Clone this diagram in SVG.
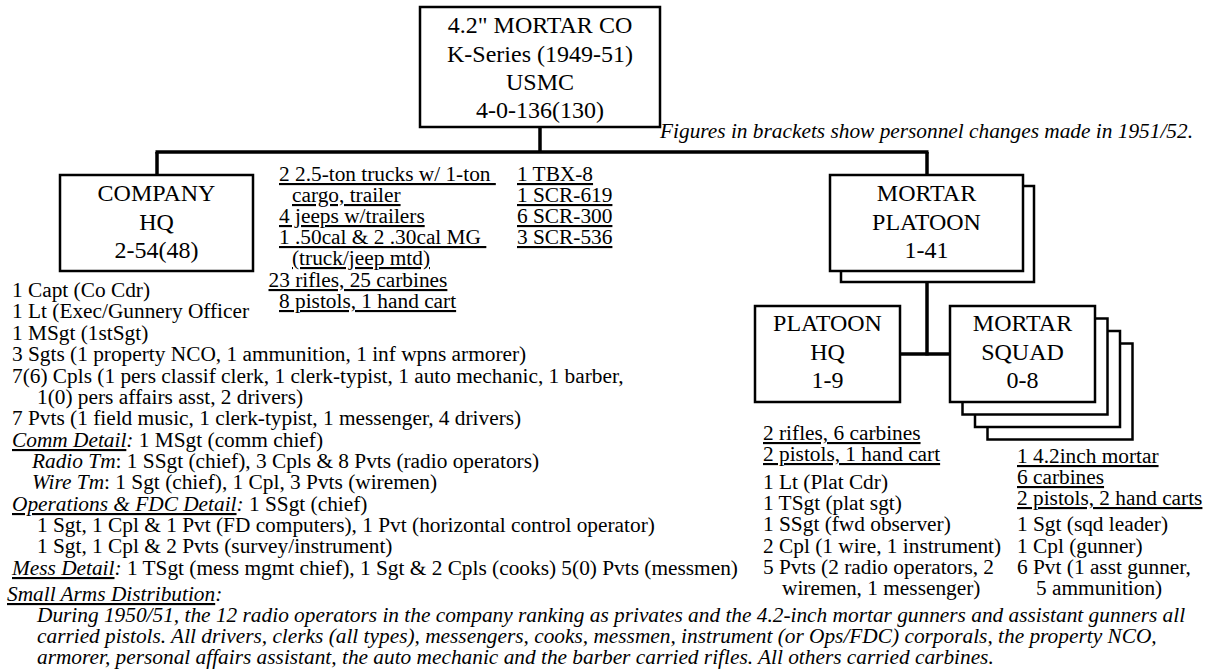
<svg xmlns="http://www.w3.org/2000/svg" width="1207" height="671" viewBox="0 0 1207 671" font-family="Liberation Serif, Times New Roman, serif">
<style>
text{font-family:'Liberation Serif','Times New Roman',Times,serif;font-size:21.33px;fill:#000}
.bt{font-size:24px;text-anchor:middle}
.u{text-decoration:underline}
.i{font-style:italic}
.box{fill:#fff;stroke:#000;stroke-width:2.5}
#connectors line{stroke:#000;stroke-width:3.5}
</style>
<rect width="1207" height="671" fill="#fff"/>
<g id="connectors">
<line x1="540" y1="127" x2="540" y2="152"/>
<line x1="155.5" y1="152" x2="928.5" y2="152"/>
<line x1="157" y1="152" x2="157" y2="176"/>
<line x1="927" y1="152" x2="927" y2="176"/>
<line x1="927" y1="282" x2="927" y2="355.5"/>
<line x1="900" y1="354" x2="950" y2="354"/>
</g>
<g id="node-company">
<rect class="box" x="420" y="7" width="240" height="120"/>
<text class="bt" x="540" y="33">4.2" MORTAR CO</text>
<text class="bt" x="540" y="61.5">K-Series (1949-51)</text>
<text class="bt" x="540" y="90">USMC</text>
<text class="bt" x="540" y="118">4-0-136(130)</text>
</g>
<text class="i" x="1193" y="138" text-anchor="end">Figures in brackets show personnel changes made in 1951/52.</text>
<g id="node-company-hq">
<rect class="box" x="60" y="175" width="193" height="96"/>
<text class="bt" x="156.5" y="201">COMPANY</text>
<text class="bt" x="156.5" y="229.5">HQ</text>
<text class="bt" x="156.5" y="258">2-54(48)</text>
</g>
<g id="node-mortar-platoon">
<rect class="box" x="841" y="186" width="193" height="96"/>
<rect class="box" x="830" y="175" width="193" height="96"/>
<text class="bt" x="926.5" y="201">MORTAR</text>
<text class="bt" x="926.5" y="229.5">PLATOON</text>
<text class="bt" x="926.5" y="258">1-41</text>
</g>
<g id="node-platoon-hq">
<rect class="box" x="755" y="306" width="145" height="96"/>
<text class="bt" x="827.5" y="331">PLATOON</text>
<text class="bt" x="827.5" y="359.5">HQ</text>
<text class="bt" x="827.5" y="388">1-9</text>
</g>
<g id="node-mortar-squad">
<rect class="box" x="987.5" y="343.5" width="145" height="96"/>
<rect class="box" x="975" y="331" width="145" height="96"/>
<rect class="box" x="962.5" y="318.5" width="145" height="96"/>
<rect class="box" x="950" y="306" width="145" height="96"/>
<text class="bt" x="1022.5" y="331">MORTAR</text>
<text class="bt" x="1022.5" y="359.5">SQUAD</text>
<text class="bt" x="1022.5" y="388">0-8</text>
</g>
<g id="equipment-hq">
<text class="u" x="279" y="181">2 2.5-ton trucks w/ 1-ton&#160;</text>
<text class="u" x="292" y="202">cargo, trailer</text>
<text class="u" x="279" y="223">4 jeeps w/trailers</text>
<text class="u" x="279" y="244">1 .50cal &amp; 2 .30cal MG&#160;</text>
<text class="u" x="292" y="265">(truck/jeep mtd)</text>
<text class="u" x="268.5" y="287">23 rifles, 25 carbines</text>
<text class="u" x="279" y="308">8 pistols, 1 hand cart</text>
<text class="u" x="517" y="181">1 TBX-8</text>
<text class="u" x="517" y="202">1 SCR-619</text>
<text class="u" x="517" y="223">6 SCR-300</text>
<text class="u" x="517" y="244">3 SCR-536</text>
</g>
<g id="personnel-hq">
<text x="12" y="297">1 Capt (Co Cdr)</text>
<text x="12" y="318">1 Lt (Exec/Gunnery Officer</text>
<text x="12" y="340">1 MSgt (1stSgt)</text>
<text x="12" y="361">3 Sgts (1 property NCO, 1 ammunition, 1 inf wpns armorer)</text>
<text x="12" y="383">7(6) Cpls (1 pers classif clerk, 1 clerk-typist, 1 auto mechanic, 1 barber,</text>
<text x="37" y="404">1(0) pers affairs asst, 2 drivers)</text>
<text x="12" y="425">7 Pvts (1 field music, 1 clerk-typist, 1 messenger, 4 drivers)</text>
<text x="12" y="447"><tspan class="i u">Comm Detail</tspan><tspan class="i">:</tspan> 1 MSgt (comm chief)</text>
<text x="32" y="468"><tspan class="i">Radio Tm</tspan>: 1 SSgt (chief), 3 Cpls &amp; 8 Pvts (radio operators)</text>
<text x="32" y="489"><tspan class="i">Wire Tm</tspan>: 1 Sgt (chief), 1 Cpl, 3 Pvts (wiremen)</text>
<text x="12" y="511"><tspan class="i u">Operations &amp; FDC Detail</tspan><tspan class="i">:</tspan> 1 SSgt (chief)</text>
<text x="37" y="532">1 Sgt, 1 Cpl &amp; 1 Pvt (FD computers), 1 Pvt (horizontal control operator)</text>
<text x="37" y="553">1 Sgt, 1 Cpl &amp; 2 Pvts (survey/instrument)</text>
<text x="12" y="575"><tspan class="i u">Mess Detail</tspan><tspan class="i">:</tspan> 1 TSgt (mess mgmt chief), 1 Sgt &amp; 2 Cpls (cooks) 5(0) Pvts (messmen)</text>
</g>
<g id="small-arms">
<text x="7" y="601"><tspan class="i u">Small Arms Distribution</tspan><tspan class="i">:</tspan></text>
<text class="i" x="37" y="622">During 1950/51, the 12 radio operators in the company ranking as privates and the 4.2-inch mortar gunners and assistant gunners all</text>
<text class="i" x="37" y="643">carried pistols. All drivers, clerks (all types), messengers, cooks, messmen, instrument (or Ops/FDC) corporals, the property NCO,</text>
<text class="i" x="37" y="664">armorer, personal affairs assistant, the auto mechanic and the barber carried rifles. All others carried carbines.</text>
</g>
<g id="platoon-hq-details">
<text class="u" x="763" y="440">2 rifles, 6 carbines</text>
<text class="u" x="763" y="461">2 pistols, 1 hand cart</text>
<text x="763" y="489">1 Lt (Plat Cdr)</text>
<text x="763" y="510">1 TSgt (plat sgt)</text>
<text x="763" y="531">1 SSgt (fwd observer)</text>
<text x="763" y="553">2 Cpl (1 wire, 1 instrument)</text>
<text x="763" y="574">5 Pvts (2 radio operators, 2</text>
<text x="782" y="595">wiremen, 1 messenger)</text>
</g>
<g id="squad-details">
<text class="u" x="1017" y="463">1 4.2inch mortar</text>
<text class="u" x="1017" y="484">6 carbines</text>
<text class="u" x="1017" y="505">2 pistols, 2 hand carts</text>
<text x="1017" y="531">1 Sgt (sqd leader)</text>
<text x="1017" y="553">1 Cpl (gunner)</text>
<text x="1017" y="574">6 Pvt (1 asst gunner,</text>
<text x="1036" y="595">5 ammunition)</text>
</g>
</svg>
